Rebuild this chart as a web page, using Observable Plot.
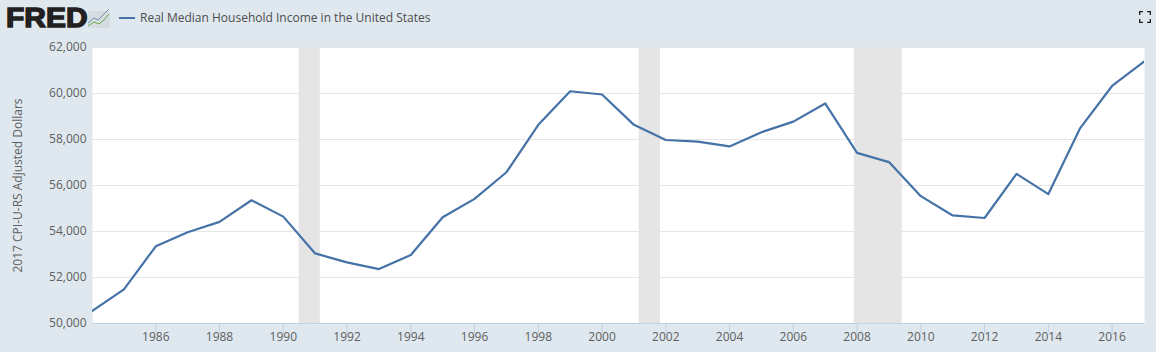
<!DOCTYPE html>
<html>
<head>
<meta charset="utf-8">
<script src="https://cdn.jsdelivr.net/npm/d3@7"></script>
<script src="https://cdn.jsdelivr.net/npm/@observablehq/plot@0.6"></script>
<style>
html,body{margin:0;padding:0;background:#dfe8ef;width:1156px;height:352px;overflow:hidden}
#head{position:relative;height:36px;font-family:"Open Sans",sans-serif}
#logo{position:absolute;left:6px;top:3px;font:900 28px/30px "Liberation Sans",Arial,sans-serif;color:#231f20;letter-spacing:0;-webkit-text-stroke:1.4px #231f20;transform-origin:0 0;transform:scaleX(1.07)}
#spark{position:absolute;left:88px;top:8px}
#key{position:absolute;left:119px;top:17px;width:16px;height:2px;background:#4572a7}
#name{position:absolute;left:140px;top:9px;font-size:12px;line-height:17px;color:#4d4d4d}
#full{position:absolute;left:1139px;top:11px}
svg{display:block}
</style>
</head>
<body>
<div id="head">
  <div id="logo">FRED</div>
  <svg id="spark" width="22" height="20" viewBox="0 0 22 20"><rect y="3" width="22" height="17" rx="2" fill="#d6dde1"/><path d="M0 15L6 10L10 12L15 7L21 1" fill="none" stroke="#6f93b5" stroke-width="1"/><path d="M0 18L6 14L11 16L16 12L21 6" fill="none" stroke="#6aa84f" stroke-width="1"/></svg>
  <div id="key"></div>
  <div id="name">Real Median Household Income in the United States</div>
  <svg id="full" width="12" height="12" viewBox="0 0 12 12"><path d="M0.5 4V0.5H4M8 0.5H11.5V4M11.5 8V11.5H8M4 11.5H0.5V8" fill="none" stroke="#222" stroke-width="1.6"/></svg>
</div>
<div id="chart"></div>
<script>
const years = [1984,1985,1986,1987,1988,1989,1990,1991,1992,1993,1994,1995,1996,1997,1998,1999,2000,2001,2002,2003,2004,2005,2006,2007,2008,2009,2010,2011,2012,2013,2014,2015,2016,2017];
const income = [50520,51470,53340,53950,54400,55340,54630,53030,52640,52350,52960,54600,55400,56560,58620,60080,59940,58620,57960,57890,57680,58300,58760,59550,57400,57000,55520,54680,54570,56490,55610,58480,60310,61370];
const recessionStart = ["1990-07-01","2001-03-01","2007-12-01"];
const recessionEnd = ["1991-03-01","2001-11-01","2009-06-01"];
const yTicks = [50000,52000,54000,56000,58000,60000,62000];
const xTickYears = [1986,1988,1990,1992,1994,1996,1998,2000,2002,2004,2006,2008,2010,2012,2014,2016];
const yLabel = "2017 CPI-U-RS Adjusted Dollars";

const series = years.map((y,i)=>({date:new Date(Date.UTC(y,0,1)),value:income[i]}));
const recessions = recessionStart.map((s,i)=>({x1:new Date(s+"T00:00:00Z"),x2:new Date(recessionEnd[i]+"T00:00:00Z")}));
const xTicks = xTickYears.map(y=>new Date(Date.UTC(y,0,1)));

const plot = Plot.plot({
  width:1156, height:316,
  marginLeft:92, marginRight:12, marginTop:11, marginBottom:29,
  style:{background:"transparent",fontFamily:"'Open Sans',sans-serif",fontSize:"12px",color:"#606060"},
  x:{type:"utc",domain:[new Date(Date.UTC(1984,0,1)),new Date(Date.UTC(2017,0,1))]},
  y:{domain:[50000,62000]},
  marks:[
    Plot.frame({fill:"#ffffff",stroke:null}),
    Plot.gridY(yTicks,{stroke:"#e6e6e6",strokeOpacity:1,strokeWidth:1}),
    Plot.rectY(recessions,{x1:"x1",x2:"x2",y1:50000,y2:62000,fill:"#e5e5e5",dx:-0.5}),
    Plot.ruleY([50000],{stroke:"#c0d0e0",strokeWidth:1}),
    Plot.axisY({ticks:yTicks,tickSize:0,tickPadding:6,tickFormat:d3.format(","),label:null,fontSize:12,fill:"#606060"}),
    Plot.axisX({ticks:xTicks,tickSize:10,tickPadding:-1,stroke:"#c0d0e0",tickFormat:d=>String(d.getUTCFullYear()),label:null,fontSize:12,fill:"#606060",dx:-0.5}),
    Plot.text([yLabel],{frameAnchor:"left",dx:-74,rotate:-90,textAnchor:"middle",fontSize:12,fill:"#606060"}),
    Plot.line(series,{x:"date",y:"value",stroke:"#4572a7",strokeWidth:2.2,curve:"linear",clip:"frame",dx:-0.5,dy:-0.4})
  ]
});
document.getElementById("chart").appendChild(plot);
</script>
</body>
</html>
